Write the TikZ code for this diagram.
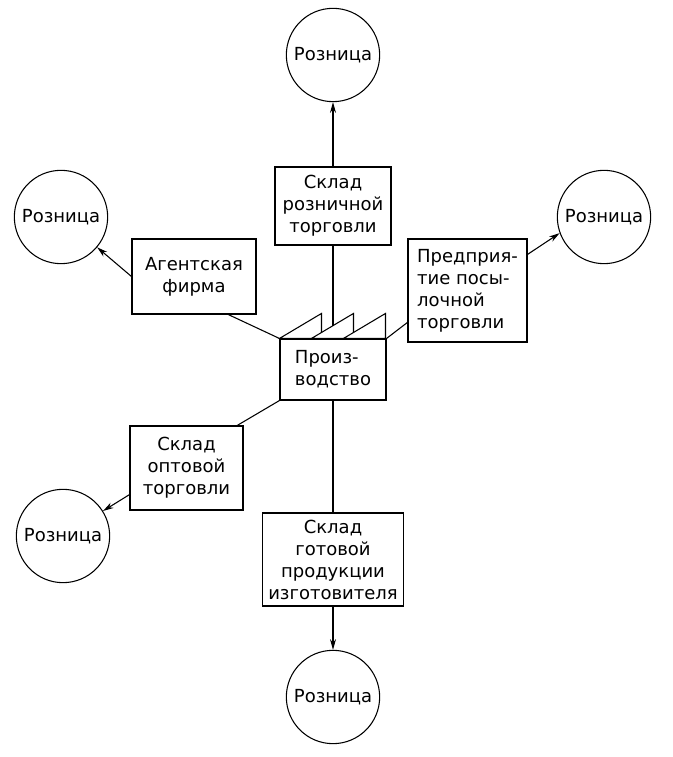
\documentclass[tikz,border=0pt]{standalone}
\usepackage{fontspec}
\setmainfont{DejaVu Sans}
\usetikzlibrary{arrows.meta}
\begin{document}
\begin{tikzpicture}[x=7.5pt,y=7.5pt,line width=0.8pt,
    font=\fontsize{13.5}{16.5}\selectfont,
    retail/.style={draw,circle,minimum size=70pt,inner sep=0pt},
    box/.style={draw,rectangle,align=center,inner sep=2pt},
    tip/.style={-{Stealth[length=8pt,width=4.5pt]}}]
				\useasboundingbox (0,0) rectangle (67.2,75.7);
				% retail outlets
				\node[retail] (rt) at (33.3,70.2) {Розница};
				\node[retail] (rl) at (6.1,54.0) {Розница};
				\node[retail] (rr) at (60.4,54.0) {Розница};
				\node[retail] (rbl) at (6.3,22.1) {Розница};
				\node[retail] (rb) at (33.3,6.0) {Розница};
				% channels
				\node[box,minimum width=87pt,minimum height=58.5pt] (sr) at (33.3,55.1) {Склад\\розничной\\торговли};
				\node[box,minimum width=93pt,minimum height=56.25pt] (af) at (19.4,48.05) {Агентская\\фирма};
				\node[box,align=left,minimum width=89.25pt,minimum height=77.25pt] (pp) at (46.75,46.65) {Предприя-\\тие посы-\\лочной\\торговли};
				\node[box,minimum width=84.75pt,minimum height=63pt] (so) at (18.65,28.9) {Склад\\оптовой\\торговли};
				\node[box,minimum width=105.75pt,minimum height=69.75pt] (sg) at (33.3,19.75) {Склад\\готовой\\продукции\\изготовителя};
				% factory
				\node[box,align=left,minimum width=79.5pt,minimum height=45.75pt] (pr) at (33.3,38.75) {Произ-\\водство};
				\begin{scope}[shift={(pr.north west)}]
					\foreach \s in {0,3.2,6.4}
						\draw[fill=white] (\s,0) -- ++(4.2,2.5) -- ++(0,-2.5) -- cycle;
					\coordinate (roof) at (5.3,1.25);
				\end{scope}
				\draw (sr.south) -- (sr.south |- roof);
				\draw (af.-48) -- (pr.north west);
				\draw (pp.208) -- (pr.north east);
				\draw (so.40) -- (pr.south west);
				\draw (sg.north) -- (pr.south);
				% arrows to retail
				\draw[tip] (sr.north) -- (rt.south);
				\draw[tip] (af.west) -- (rl.-40);
				\draw[tip] (pp.31) -- (rr.200);
				\draw[tip] (so.205) -- (rbl.32);
				\draw[tip] (sg.south) -- (rb.north);
			\end{tikzpicture}
\end{document}
